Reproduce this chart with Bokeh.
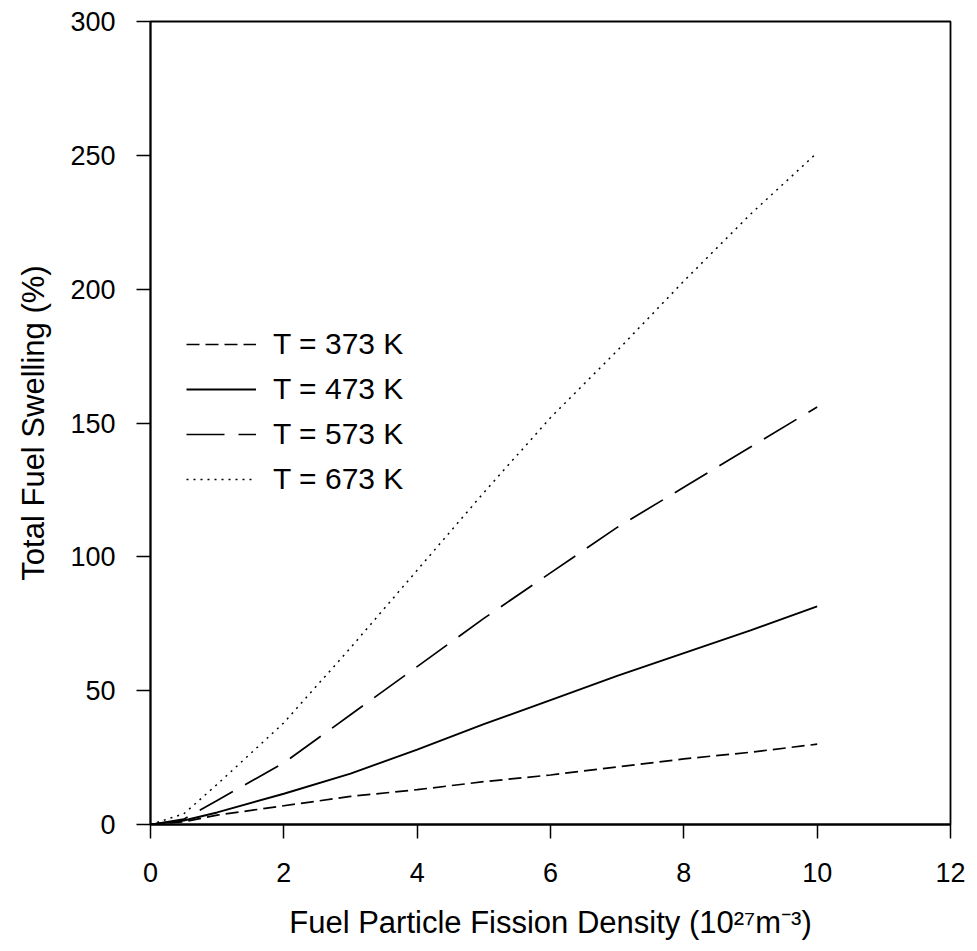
from bokeh.plotting import figure
from bokeh.models import Legend, LegendItem, Range1d, FixedTicker
from bokeh.embed import file_html
from bokeh.resources import INLINE

# Data
x_vals = [0, 0.5, 1, 2, 3, 4, 5, 6, 7, 8, 9, 10]
t373 = [0, 1.0, 3.5, 7.0, 10.5, 13.0, 16.0, 18.5, 21.5, 24.5, 27.0, 30.0]
t473 = [0, 1.5, 4.5, 11.5, 19.0, 28.0, 37.5, 46.5, 55.5, 64.0, 72.5, 81.5]
t573 = [0, 2.0, 9.0, 23.0, 41.0, 59.0, 77.0, 94.0, 111.0, 126.0, 141.0, 156.0]
t673 = [0, 4.0, 15.0, 38.0, 66.0, 95.0, 124.0, 152.0, 177.0, 203.0, 228.0, 251.0]
labels = ["T = 373 K", "T = 473 K", "T = 573 K", "T = 673 K"]
x_ticks = [0, 2, 4, 6, 8, 10, 12]
y_ticks = [0, 50, 100, 150, 200, 250, 300]

FONT = "Liberation Sans"

p = figure(width=972, height=950, output_backend="svg", toolbar_location=None,
           x_range=Range1d(0, 12), y_range=Range1d(0, 300),
           min_border_left=150, min_border_right=22, min_border_top=21, min_border_bottom=126)
p.background_fill_color = "white"
p.border_fill_color = "white"
p.outline_line_color = "black"
p.outline_line_width = 1.8
p.xgrid.visible = False
p.ygrid.visible = False

for ax in (p.xaxis[0], p.yaxis[0]):
    ax.axis_line_color = "black"
    ax.axis_line_width = 1.8
    ax.major_tick_line_color = "black"
    ax.major_tick_line_width = 1.5
    ax.major_tick_out = 14
    ax.major_tick_in = 0
    ax.minor_tick_line_color = None
    ax.major_label_text_font = FONT
    ax.major_label_text_font_size = "27px"
    ax.major_label_text_color = "black"
    ax.axis_label_text_font = FONT
    ax.axis_label_text_font_size = "31px"
    ax.axis_label_text_font_style = "normal"
    ax.axis_label_text_color = "black"

p.xaxis[0].ticker = FixedTicker(ticks=x_ticks)
p.yaxis[0].ticker = FixedTicker(ticks=y_ticks)
p.xaxis[0].major_label_standoff = 24
p.yaxis[0].major_label_standoff = 21
p.xaxis[0].axis_label = "Fuel Particle Fission Density (10\u00b2\u2077m\u207b\u00b3)"
p.yaxis[0].axis_label = "Total Fuel Swelling (%)"
p.xaxis[0].axis_label_standoff = 20
p.yaxis[0].axis_label_standoff = 16

r1 = p.line(x_vals, t373, line_color="black", line_width=1.7, line_dash="13 6")
r2 = p.line(x_vals, t473, line_color="black", line_width=1.9)
r3 = p.line(x_vals, t573, line_color="black", line_width=1.7, line_dash="38 14")
r4 = p.line(x_vals, t673, line_color="black", line_width=1.5, line_dash="2 5")

legend = Legend(items=[LegendItem(label=labels[0], renderers=[r1]),
                       LegendItem(label=labels[1], renderers=[r2]),
                       LegendItem(label=labels[2], renderers=[r3]),
                       LegendItem(label=labels[3], renderers=[r4])],
                location=(36, 327))
legend.background_fill_alpha = 0
legend.border_line_color = None
legend.padding = 0
legend.margin = 0
legend.spacing = 9
legend.glyph_width = 70
legend.glyph_height = 36
legend.label_height = 36
legend.label_standoff = 17
legend.label_text_font = FONT
legend.label_text_font_size = "30px"
legend.label_text_color = "black"
p.add_layout(legend, "center")

open("out.html", "w").write(file_html(p, INLINE))
